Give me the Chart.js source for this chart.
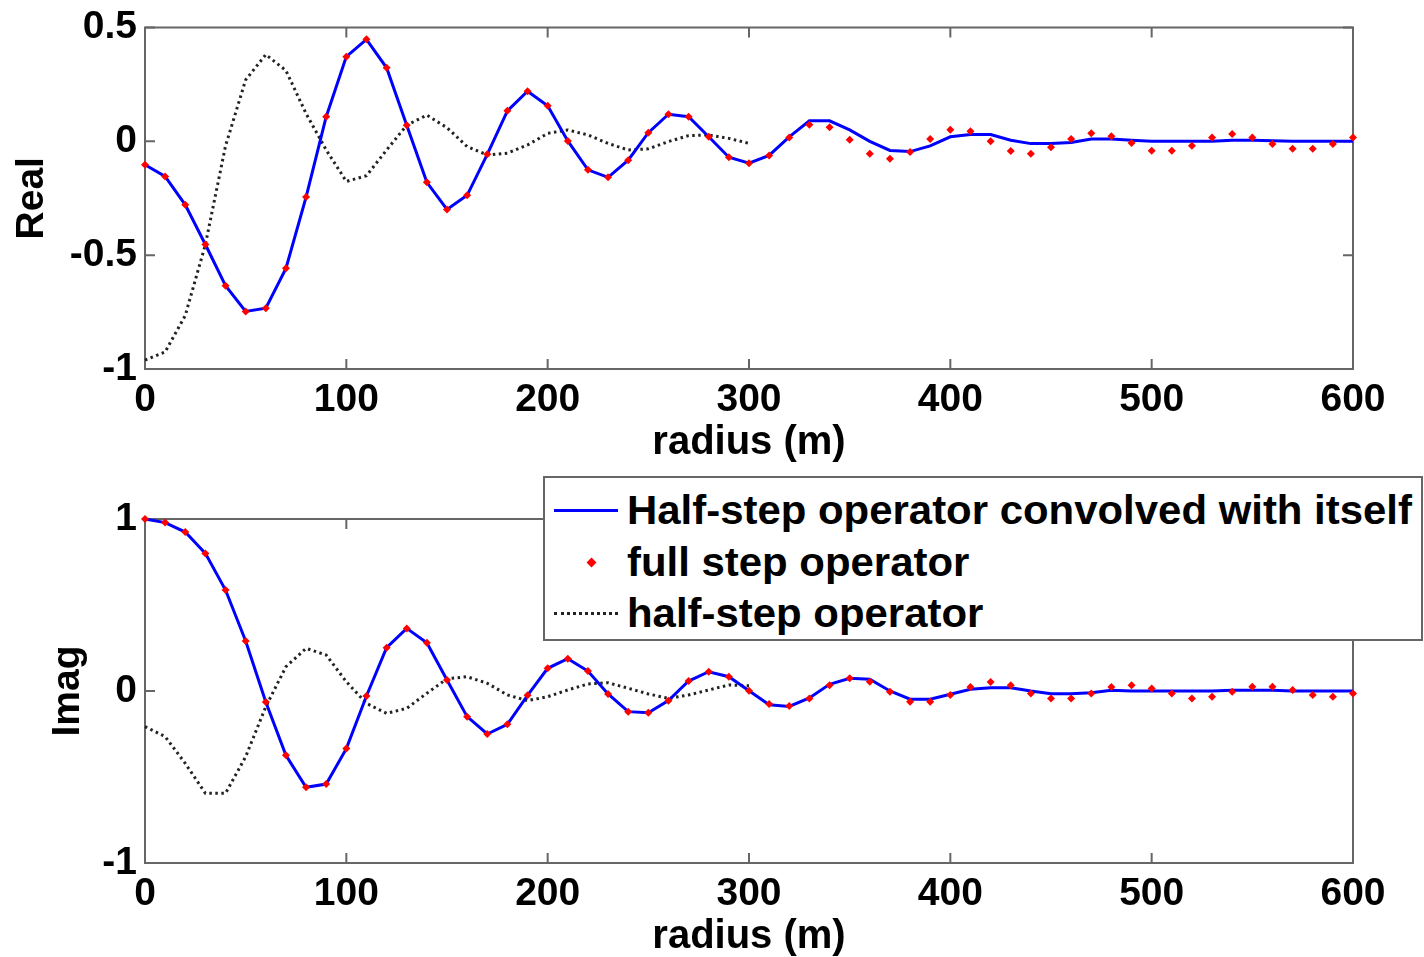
<!DOCTYPE html>
<html>
<head>
<meta charset="utf-8">
<title>Half-step vs full step operator</title>
<script src="https://cdn.jsdelivr.net/npm/chart.js@4.4.1/dist/chart.umd.min.js"></script>
<style>
  html, body { margin: 0; padding: 0; background: #fff; }
  body {
    width: 1424px; height: 957px; position: relative; overflow: hidden;
    font-family: Arial, "Liberation Sans", sans-serif;
  }
  .panel { position: absolute; left: 0; width: 1424px; }
  #wrap-real { top: 0; height: 470px; }
  #wrap-imag { top: 470px; height: 487px; }

  /* легенда поверх нижнего графика, как в MATLAB */
  #legend {
    position: absolute; left: 543px; top: 476px;
    width: 880px; height: 165px; box-sizing: border-box;
    border: 2px solid #666; background: #fff;
  }
  #legend .row {
    position: absolute; left: 0; height: 50px; width: 100%;
    display: flex; align-items: center;
  }
  #legend .sample { position: absolute; left: 9px; width: 64px; }
  #legend .label {
    position: absolute; left: 82px; font-weight: bold; font-size: 40px;
    color: #000; white-space: nowrap; line-height: 50px;
    transform: scaleX(1.048); transform-origin: left center;
  }
  .s-blue { border-top: 3px solid #0000ff; }
  .s-black { border-top: 3px dotted #222; }
  .s-red {
    left: 43px !important; width: 7px !important; height: 7px;
    background: #ff0000; transform: rotate(45deg);
  }
</style>
</head>
<body>
<div class="panel" id="wrap-real"><canvas id="chart-real" width="1424" height="470"></canvas></div>
<div class="panel" id="wrap-imag"><canvas id="chart-imag" width="1424" height="487"></canvas></div>

<div id="legend">
  <div class="row" style="top:7px"><span class="sample s-blue"></span><span class="label">Half-step operator convolved with itself</span></div>
  <div class="row" style="top:59px"><span class="sample s-red"></span><span class="label">full step operator</span></div>
  <div class="row" style="top:110px"><span class="sample s-black"></span><span class="label">half-step operator</span></div>
</div>

<script>
/*  ╔══════════════════════════════════════════════════════════════╗
    ║                            DATA                              ║   */
const radius = [
  0, 10, 20, 30, 40, 50, 60, 70, 80, 90,
  100, 110, 120, 130, 140, 150, 160, 170, 180, 190,
  200, 210, 220, 230, 240, 250, 260, 270, 280, 290,
  300, 310, 320, 330, 340, 350, 360, 370, 380, 390,
  400, 410, 420, 430, 440, 450, 460, 470, 480, 490,
  500, 510, 520, 530, 540, 550, 560, 570, 580, 590, 600,
];
const halfRadius = radius.slice(0, 31); // half-step operator только до 300 м

// Real
const fullStepReal = [
  -0.103, -0.154, -0.279, -0.453, -0.634, -0.747, -0.733, -0.558, -0.245, 0.108,
  0.372, 0.448, 0.323, 0.071, -0.180, -0.299, -0.237, -0.057, 0.134, 0.220,
  0.156, 0.002, -0.125, -0.158, -0.083, 0.038, 0.119, 0.108, 0.020, -0.070,
  -0.096, -0.062, 0.017, 0.073, 0.062, 0.007, -0.054, -0.077, -0.047, 0.010,
  0.051, 0.044, 0.000, -0.042, -0.055, -0.026, 0.010, 0.036, 0.022, -0.007,
  -0.041, -0.041, -0.019, 0.017, 0.032, 0.017, -0.012, -0.033, -0.033, -0.012, 0.017,
];
const convolvedReal = [
  -0.103, -0.154, -0.279, -0.453, -0.634, -0.747, -0.733, -0.558, -0.245, 0.108,
  0.372, 0.448, 0.323, 0.071, -0.180, -0.299, -0.237, -0.057, 0.134, 0.220,
  0.156, 0.002, -0.125, -0.158, -0.083, 0.038, 0.119, 0.108, 0.020, -0.070,
  -0.096, -0.062, 0.020, 0.090, 0.090, 0.050, 0.000, -0.040, -0.045, -0.020,
  0.020, 0.030, 0.030, 0.005, -0.010, -0.010, -0.005, 0.010, 0.010, 0.005,
  0.000, 0.000, 0.000, 0.000, 0.005, 0.005, 0.003, 0.000, 0.000, 0.000, 0.000,
];
const halfStepReal = [
  -0.961, -0.925, -0.765, -0.453, -0.020, 0.270, 0.381, 0.311, 0.122, -0.038,
  -0.176, -0.151, -0.038, 0.071, 0.115, 0.060, -0.023, -0.060, -0.052, -0.016,
  0.035, 0.050, 0.028, -0.009, -0.038, -0.033, -0.001, 0.025, 0.028, 0.013, -0.009,
];

// Imag
const fullStepImag = [
  1.000, 0.979, 0.924, 0.800, 0.587, 0.291, -0.064, -0.374, -0.560, -0.541,
  -0.335, -0.029, 0.252, 0.364, 0.281, 0.064, -0.149, -0.250, -0.194, -0.025,
  0.132, 0.188, 0.116, -0.017, -0.120, -0.126, -0.056, 0.058, 0.112, 0.083,
  0.002, -0.076, -0.087, -0.043, 0.033, 0.074, 0.054, -0.004, -0.062, -0.062,
  -0.023, 0.023, 0.052, 0.033, -0.014, -0.043, -0.043, -0.014, 0.023, 0.033,
  0.014, -0.014, -0.043, -0.033, -0.004, 0.025, 0.025, 0.006, -0.023, -0.033, -0.015,
];
const convolvedImag = [
  1.000, 0.979, 0.924, 0.800, 0.587, 0.291, -0.064, -0.374, -0.560, -0.541,
  -0.335, -0.029, 0.252, 0.364, 0.281, 0.064, -0.149, -0.250, -0.194, -0.025,
  0.132, 0.188, 0.116, -0.017, -0.120, -0.126, -0.056, 0.058, 0.112, 0.083,
  0.002, -0.080, -0.090, -0.040, 0.039, 0.074, 0.068, 0.000, -0.048, -0.048,
  -0.019, 0.010, 0.019, 0.019, 0.000, -0.016, -0.016, -0.010, 0.004, 0.000,
  0.000, 0.000, 0.000, 0.000, 0.005, 0.005, 0.005, 0.000, 0.000, 0.000, 0.000,
];
const halfStepImag = [
  -0.207, -0.265, -0.421, -0.595, -0.595, -0.382, -0.091, 0.141, 0.248, 0.209,
  0.054, -0.072, -0.130, -0.101, -0.013, 0.071, 0.083, 0.045, -0.023, -0.056,
  -0.033, 0.006, 0.041, 0.048, 0.016, -0.017, -0.043, -0.023, 0.006, 0.035, 0.030,
];
/*  ╚══════════════════════════════════════════════════════════════╝  */

const FONT = 'Arial, "Liberation Sans", sans-serif';
const AXIS_COLOR = "#666";

Chart.defaults.font.family = FONT;
Chart.defaults.font.weight = "bold";
Chart.defaults.color = "#000";

function toPoints(xs, ys) {
  return ys.map((y, i) => ({ x: xs[i], y: y }));
}

// рамка осей + тики внутрь (как box on в MATLAB)
const matlabBox = {
  id: "matlabBox",
  beforeDatasetsDraw(chart) {
    const { ctx, chartArea: a, scales } = chart;
    const len = 10;
    ctx.save();
    ctx.strokeStyle = AXIS_COLOR;
    ctx.lineWidth = 2;
    ctx.strokeRect(a.left, a.top, a.right - a.left, a.bottom - a.top);
    ctx.beginPath();
    scales.x.ticks.forEach((t) => {
      const px = scales.x.getPixelForValue(t.value);
      ctx.moveTo(px, a.bottom);
      ctx.lineTo(px, a.bottom - len);
      ctx.moveTo(px, a.top);
      ctx.lineTo(px, a.top + len);
    });
    scales.y.ticks.forEach((t) => {
      const py = scales.y.getPixelForValue(t.value);
      ctx.moveTo(a.left, py);
      ctx.lineTo(a.left + len, py);
      ctx.moveTo(a.right, py);
      ctx.lineTo(a.right - len, py);
    });
    ctx.stroke();
    ctx.restore();
  },
};

function makePanel(canvasId, opt) {
  const ctx = document.getElementById(canvasId).getContext("2d");
  return new Chart(ctx, {
    type: "line",
    data: {
      datasets: [
        {
          label: "full step operator",
          data: toPoints(radius, opt.full),
          showLine: false,
          pointStyle: "rectRot",
          pointRadius: 4,
          pointBackgroundColor: "#ff0000",
          pointBorderWidth: 0,
          order: 0,
          clip: false,
        },
        {
          label: "Half-step operator convolved with itself",
          data: toPoints(radius, opt.conv),
          borderColor: "#0000ff",
          borderWidth: 3,
          pointRadius: 0,
          tension: 0,
          order: 1,
          clip: false,
        },
        {
          label: "half-step operator",
          data: toPoints(halfRadius, opt.half),
          borderColor: "#222",
          borderWidth: 3,
          borderDash: [2.5, 3.5],
          pointRadius: 0,
          tension: 0,
          order: 2,
          clip: false,
        },
      ],
    },
    plugins: [matlabBox],
    options: {
      responsive: false,
      animation: false,
      events: [],
      layout: { padding: { left: 0, right: 71, top: opt.padTop, bottom: 0 } },
      plugins: { legend: { display: false }, tooltip: { enabled: false } },
      scales: {
        x: {
          type: "linear",
          min: 0,
          max: 600,
          ticks: { stepSize: 100, padding: 8, font: { size: 39 }, maxRotation: 0 },
          grid: { display: false, drawTicks: false },
          border: { display: false },
          title: {
            display: true,
            text: "radius (m)",
            font: { size: 40, weight: "bold" },
            padding: { top: 0, bottom: opt.xTitlePad },
          },
          afterFit(scale) {
            scale.height = opt.xHeight;
          },
        },
        y: {
          min: opt.yMin,
          max: opt.yMax,
          ticks: {
            stepSize: opt.yStep,
            padding: 8,
            font: { size: 39, lineHeight: 1 },
            callback: (v) => `${v}`, // "-1", "0.5" без лишних нулей
          },
          grid: { display: false, drawTicks: false },
          border: { display: false },
          title: {
            display: true,
            text: opt.yTitle,
            font: { size: 39, weight: "bold" },
            padding: { top: opt.yTitlePad, bottom: 0 },
          },
          afterFit(scale) {
            scale.width = 145;
          },
        },
      },
    },
  });
}

makePanel("chart-real", {
  full: fullStepReal,
  conv: convolvedReal,
  half: halfStepReal,
  yMin: -1,
  yMax: 0.5,
  yStep: 0.5,
  yTitle: "Real",
  yTitlePad: 9,
  padTop: 25,
  xHeight: 101,
  xTitlePad: 3,
});

makePanel("chart-imag", {
  full: fullStepImag,
  conv: convolvedImag,
  half: halfStepImag,
  yMin: -1,
  yMax: 1,
  yStep: 1,
  yTitle: "Imag",
  yTitlePad: 45,
  padTop: 49,
  xHeight: 94,
  xTitlePad: -4,
});
</script>
</body>
</html>
